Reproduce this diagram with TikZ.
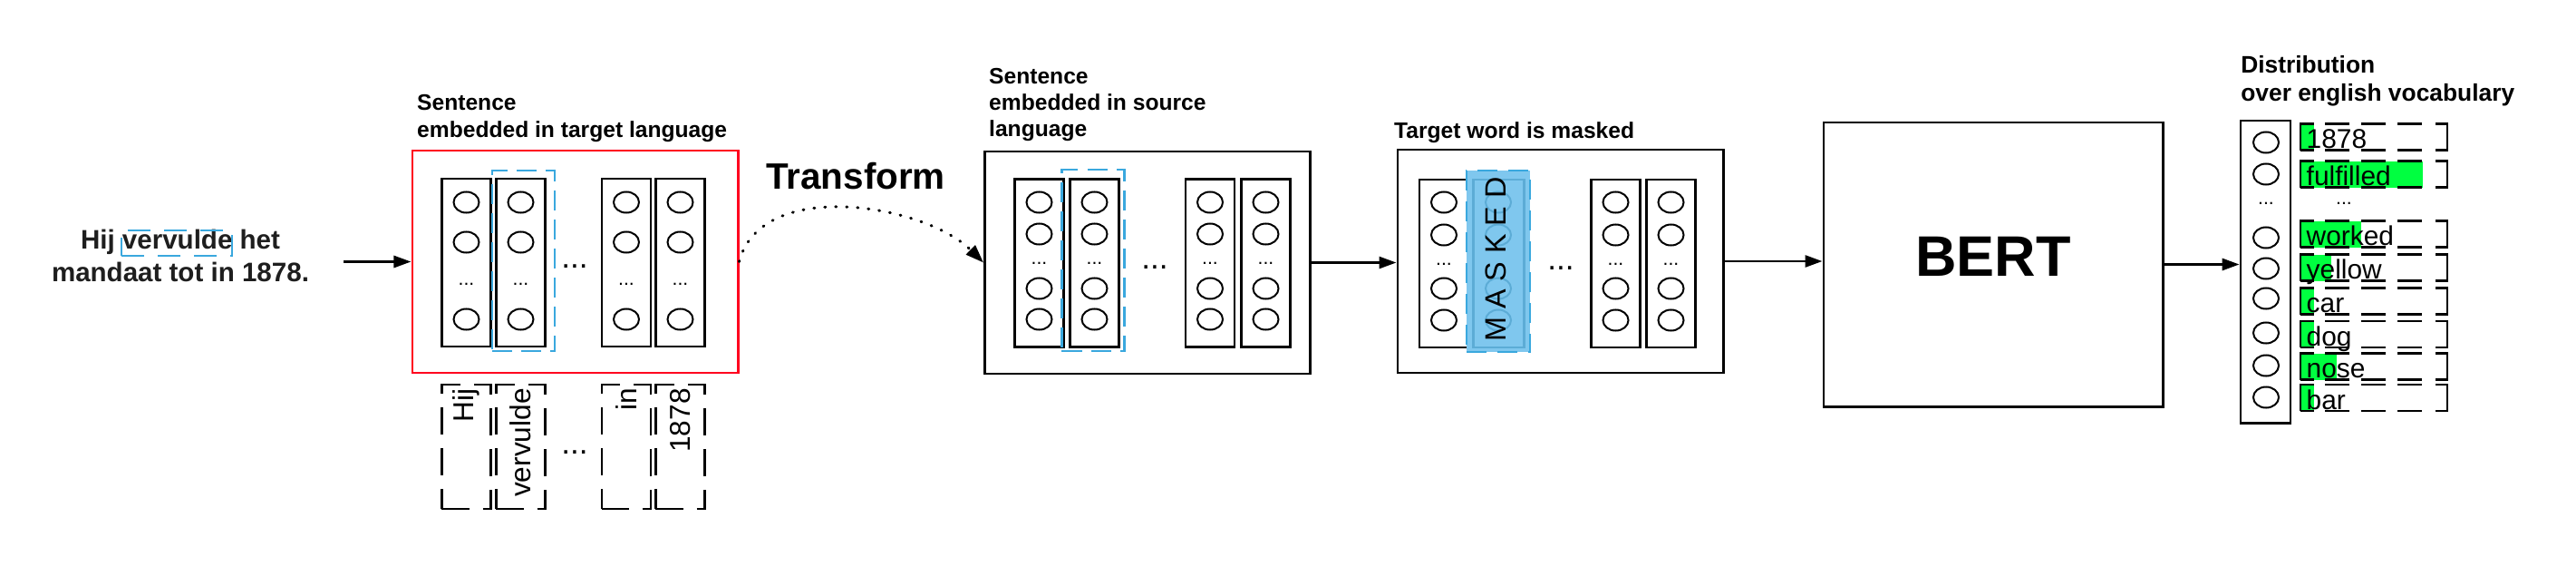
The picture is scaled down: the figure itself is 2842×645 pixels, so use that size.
\documentclass[tikz,border=0pt]{standalone}
\usepackage{fontspec}
\setmainfont{Liberation Sans}
\usepackage{tikz}
\usetikzlibrary{shapes.geometric,arrows.meta,positioning,calc}
\definecolor{framered}{RGB}{255,0,30}
\definecolor{selblue}{RGB}{58,168,222}
\definecolor{maskfill}{RGB}{127,199,238}
\definecolor{maskline}{RGB}{92,172,214}
\definecolor{probgreen}{RGB}{0,255,64}
\definecolor{textgray}{RGB}{30,30,30}

\begin{document}
\begin{tikzpicture}[
    x=0.01cm, y=-0.01cm,
    bigbox/.style={rectangle, draw, line width=0.028cm, inner sep=0},
    vecbox/.style={rectangle, draw, line width=0.028cm, minimum width=0.54cm, minimum height=1.85cm, inner sep=0},
    neuron/.style={ellipse, draw, line width=0.02cm, minimum width=0.28cm, minimum height=0.23cm, inner sep=0},
    selbox/.style={rectangle, draw=selblue, line width=0.028cm, dash pattern=on 0.22cm off 0.1cm, inner sep=0},
    wordbox/.style={rectangle, draw, line width=0.028cm, dash pattern=on 0.3cm off 0.15cm, inner sep=0},
    probbox/.style={rectangle, draw, line width=0.028cm, minimum width=1.62cm, minimum height=0.29cm, inner sep=0,
        dash pattern=on 0.15cm off 0.12cm on 0.27cm off 0.13cm on 0.27cm off 0.13cm on 0.27cm off 0.15cm on 0.55cm off 0.15cm on 0.27cm off 0.13cm on 0.27cm off 0.13cm on 0.27cm off 0.12cm on 0.44cm off 0cm},
    lbl/.style={font=\bfseries\fontsize{7}{8.5}\selectfont, align=left, inner sep=0},
    gapdots/.style={font=\fontsize{10}{12}\selectfont, inner sep=0, anchor=base},
    unitdots/.style={font=\fontsize{6}{7}\selectfont, inner sep=0, anchor=base},
    arrow/.style={-{Triangle[length=0.19cm,width=0.13cm]}, line width=0.028cm}
]
    \useasboundingbox (0,0) rectangle (2842,645);

    % Input sentence
    \node[font=\bfseries\fontsize{8.4}{10.2}\selectfont, text=textgray, align=center, inner sep=0] (input) at (199,282) {Hij vervulde het\\mandaat tot in 1878.};
    \node[selbox, dash pattern=on 0.25cm off 0.15cm, minimum width=1.22cm, minimum height=0.28cm] (insel) at (195,268) {};
    \coordinate (inarr) at (379,288.5);

    % Sentence embedded in target language
    \node[bigbox, draw=framered, minimum width=3.59cm, minimum height=2.45cm] (tgt) at (634.5,288.5) {};
    \node[lbl, above right=0.07cm and 0.06cm of tgt.north west] (tgtlbl) {Sentence\\embedded in target language};
    \foreach \cx [count=\i] in {514.5,574.5,691,750.5} {
        \node[vecbox] (tv\i) at (\cx,289.5) {};
        \foreach \cy [count=\j] in {223,267,352}
            \node[neuron] (tu\i-\j) at (\cx,\cy) {};
        \node[unitdots] (td\i) at (\cx,314) {...};
    }
    \node[selbox, minimum width=0.69cm, minimum height=1.99cm] (tsel) at (577.5,287.5) {};
    \node[gapdots] (tgap) at (634,295) {...};

    % Words below the embedding
    \foreach \cx/\w [count=\i] in {514.5/Hij,574.5/vervulde,691/in,750.5/1878} {
        \node[wordbox, minimum width=0.54cm, minimum height=1.37cm] (tw\i) at (\cx,492.5) {};
        \node[rotate=90, anchor=east, inner sep=0, font=\fontsize{9}{10}\selectfont] (twt\i) at ([yshift=-0.05cm]tw\i.north) {\w};
    }
    \node[gapdots] (twgap) at (634,500) {...};

    % Sentence embedded in source language
    \node[bigbox, minimum width=3.59cm, minimum height=2.45cm] (src) at (1266,289.5) {};
    \node[lbl, font=\bfseries\fontsize{7}{8.25}\selectfont, above right=0.09cm and 0.055cm of src.north west] (srclbl) {Sentence\\embedded in source\\language};
    \foreach \cx [count=\i] in {1146.5,1207.5,1335,1396.5} {
        \node[vecbox] (sv\i) at (\cx,290) {};
        \foreach \cy [count=\j] in {223,258,318,352}
            \node[neuron] (su\i-\j) at (\cx,\cy) {};
        \node[unitdots] (sd\i) at (\cx,291.5) {...};
    }
    \node[selbox, minimum width=0.69cm, minimum height=2cm] (ssel) at (1206,287) {};
    \node[gapdots] (sgap) at (1274,296.5) {...};

    % Transform
    \node[font=\bfseries\fontsize{11.5}{13}\selectfont, anchor=base, inner sep=0] (trlbl) at (944,208) {Transform};

    % Target word is masked
    \node[bigbox, minimum width=3.59cm, minimum height=2.46cm] (msk) at (1721.5,288) {};
    \node[lbl, above right=0.05cm and -0.03cm of msk.north west] (msklbl) {Target word is masked};
    \foreach \cx [count=\i] in {1593,1782.5,1843.5} {
        \node[vecbox] (mv\i) at (\cx,290.5) {};
        \foreach \cy [count=\j] in {223,259,318,353}
            \node[neuron] (mu\i-\j) at (\cx,\cy) {};
        \node[unitdots] (md\i) at (\cx,292) {...};
    }
    \node[selbox, fill=maskfill, dash pattern=on 0.22cm off 0.12cm, minimum width=0.7cm, minimum height=2cm] (mask) at (1653,288) {};
    \node[vecbox, draw=maskline, minimum width=0.56cm] (mmv) at (1653.5,290.5) {};
    \foreach \cy [count=\j] in {223,259,318,353}
        \node[neuron, draw=maskline] (mmu\j) at (1653,\cy) {};
    \node[rotate=90, inner sep=0, font=\fontsize{9.2}{10}\selectfont] (masktxt) at (1650,286) {M A S K E D};
    \node[gapdots] (mgap) at (1722,297) {...};

    % BERT
    \node[bigbox, minimum width=3.74cm, minimum height=3.13cm] (bert) at (2199,291.5) {};
    \node[font=\bfseries\fontsize{17.9}{20}\selectfont, inner sep=0] (berttxt) at (2199,282.5) {BERT};

    % Distribution over english vocabulary
    \node[bigbox, minimum width=0.55cm, minimum height=3.33cm] (dist) at (2499.5,299.5) {};
    \node[lbl, font=\bfseries\fontsize{7.5}{8.8}\selectfont, above right=0.14cm and 0.01cm of dist.north west] (distlbl) {Distribution\\over english vocabulary};
    \foreach \cy [count=\j] in {157,192,262,296,329,367,403,438}
        \node[neuron] (du\j) at (2500,\cy) {};
    \node[unitdots] (ddots) at (2500,225) {...};
    \foreach \cy/\w/\g [count=\i] in {151/1878/15,192/fulfilled/135,258/worked/67,295/yellow/34,332/car/15,368.5/dog/15,404/nose/40,438.5/bar/15} {
        \fill[probgreen] (2538,\cy-14.5) rectangle ++(\g,29);
        \node[probbox] (pb\i) at (2619,\cy) {};
        \node[anchor=base west, inner sep=0, font=\fontsize{8.5}{10}\selectfont] (pw\i) at (2544,\cy+12.5) {\w};
    }
    \node[unitdots] (pdots) at (2586,225) {...};

    % Arrows
    \draw[arrow] (inarr) -- (tgt.west);
    \draw[line width=0.03cm, line cap=round, dash pattern=on 0.01cm off 0.11cm, -{Triangle[length=0.2cm,width=0.14cm]}] (tgt.east) .. controls (840,195) and (1020,225) .. (src.west);
    \draw[arrow] (src.east) -- (src.east -| msk.west);
    \draw[arrow] (msk.east) -- (msk.east -| bert.west);
    \draw[arrow] (bert.east) -- (bert.east -| dist.west);
\end{tikzpicture}
\end{document}
